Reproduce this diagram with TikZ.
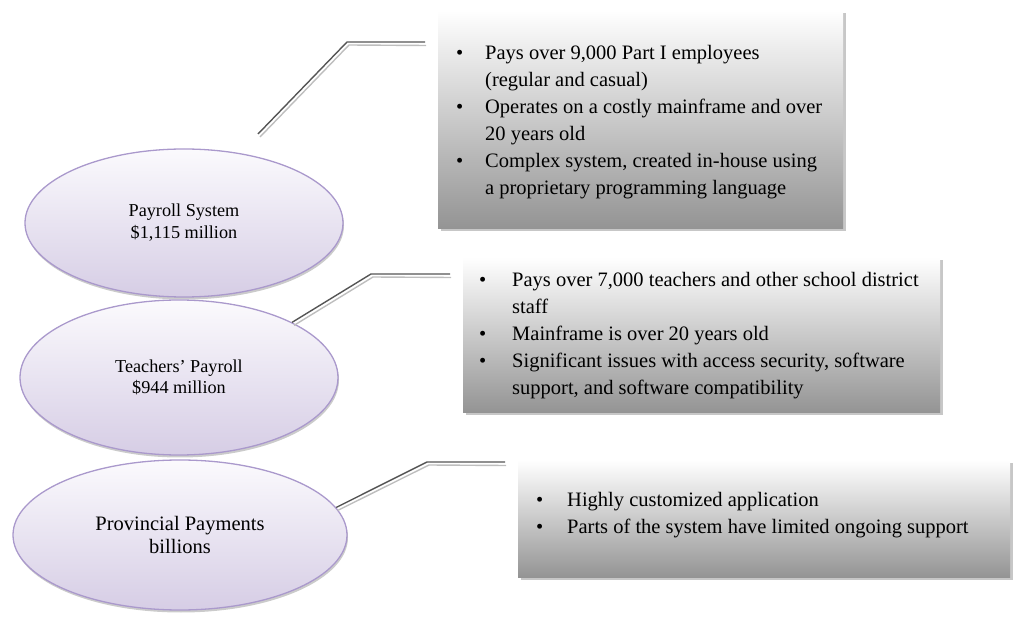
\documentclass[tikz,border=0pt]{standalone}
\usepackage{fontspec}
\setmainfont{Liberation Serif}
\usetikzlibrary{shapes.geometric,shadows}

\definecolor{ellipsetop}{RGB}{251,250,253}
\definecolor{ellipsebot}{RGB}{214,205,229}
\definecolor{ellipseedge}{RGB}{170,153,204}
\definecolor{boxbot}{RGB}{148,148,148}
\definecolor{linedark}{RGB}{85,85,85}
\definecolor{linelight}{RGB}{190,190,190}

\newcommand{\bulletlist}[2]{%
  \begin{tabular}[t]{@{}p{#1}@{}l@{}}#2\end{tabular}}

\begin{document}
\begin{tikzpicture}[x=1pt,y=-1pt,
  sysnode/.style={ellipse, draw=ellipseedge, line width=1.3pt,
    top color=ellipsetop, bottom color=ellipsebot, inner sep=0pt, align=center,
    drop shadow={shadow xshift=1pt, shadow yshift=-2.5pt, fill=black!45, opacity=0.45}},
  infobox/.style={rectangle, inner sep=0pt, draw=none,
    top color=white, bottom color=boxbot, anchor=north west,
    drop shadow={shadow xshift=3pt, shadow yshift=-3pt, fill=black!22, opacity=1}},
  boxtext/.style={anchor=base west, inner sep=0pt,
    font=\fontsize{20.5}{27}\selectfont},
  conndark/.style={draw=linedark, line width=1.4pt},
  connlight/.style={draw=linelight, line width=1.4pt},
]
\useasboundingbox (0,0) rectangle (1013,617);

% system ellipses
\node[sysnode, minimum width=318pt, minimum height=148pt,
  font=\fontsize{18.2}{22}\selectfont] (e1) at (184,223)
  {Payroll System\\\$1,115 million};
\node[sysnode, minimum width=318pt, minimum height=155pt,
  font=\fontsize{18.2}{21}\selectfont] (e2) at (179,377.5)
  {Teachers’ Payroll\\\$944 million};
\node[sysnode, minimum width=334pt, minimum height=150pt,
  font=\fontsize{20.5}{23}\selectfont] (e3) at (180,535)
  {Provincial Payments\\billions};

% description boxes
\node[infobox, minimum width=405pt, minimum height=218pt] (b1) at (438,10) {};
\node[infobox, minimum width=477pt, minimum height=155pt] (b2) at (463,257) {};
\node[infobox, minimum width=492pt, minimum height=117pt] (b3) at (518,460) {};

\node[boxtext] (t1) at (456,60) {\bulletlist{29pt}{%
  \textbullet & Pays over 9,000 Part I employees\\
  & (regular and casual)\\
  \textbullet & Operates on a costly mainframe and over\\
  & 20 years old\\
  \textbullet & Complex system, created in-house using\\
  & a proprietary programming language}};

\node[boxtext] (t2) at (479,287) {\bulletlist{33pt}{%
  \textbullet & Pays over 7,000 teachers and other school district\\
  & staff\\
  \textbullet & Mainframe is over 20 years old\\
  \textbullet & Significant issues with access security, software\\
  & support, and software compatibility}};

\node[boxtext] (t3) at (536,507) {\bulletlist{31pt}{%
  \textbullet & Highly customized application\\
  \textbullet & Parts of the system have limited ongoing support}};

% callout connectors
\coordinate (k1a) at (258,134);
\coordinate (k1b) at (347,42);
\coordinate (k1c) at (425,42);
\coordinate (k2b) at (371,274);
\coordinate (k2c) at (450,274);
\coordinate (k3b) at (427,462);
\coordinate (k3c) at (505,462);

\draw[connlight] ([shift={(2,3)}]k1a) -- ([shift={(2,3)}]k1b) -- ([shift={(1,3.5)}]k1c);
\draw[conndark] (k1a) -- (k1b) -- (k1c);

\draw[connlight] ([shift={(2,3)}]e2.26) -- ([shift={(2,3)}]k2b) -- ([shift={(1,3.5)}]k2c);
\draw[conndark] (e2.26) -- (k2b) -- (k2c);

\draw[connlight] ([shift={(1.5,3)}]e3.10) -- ([shift={(2,3)}]k3b) -- ([shift={(1,3.5)}]k3c);
\draw[conndark] (e3.10) -- (k3b) -- (k3c);
\end{tikzpicture}
\end{document}
